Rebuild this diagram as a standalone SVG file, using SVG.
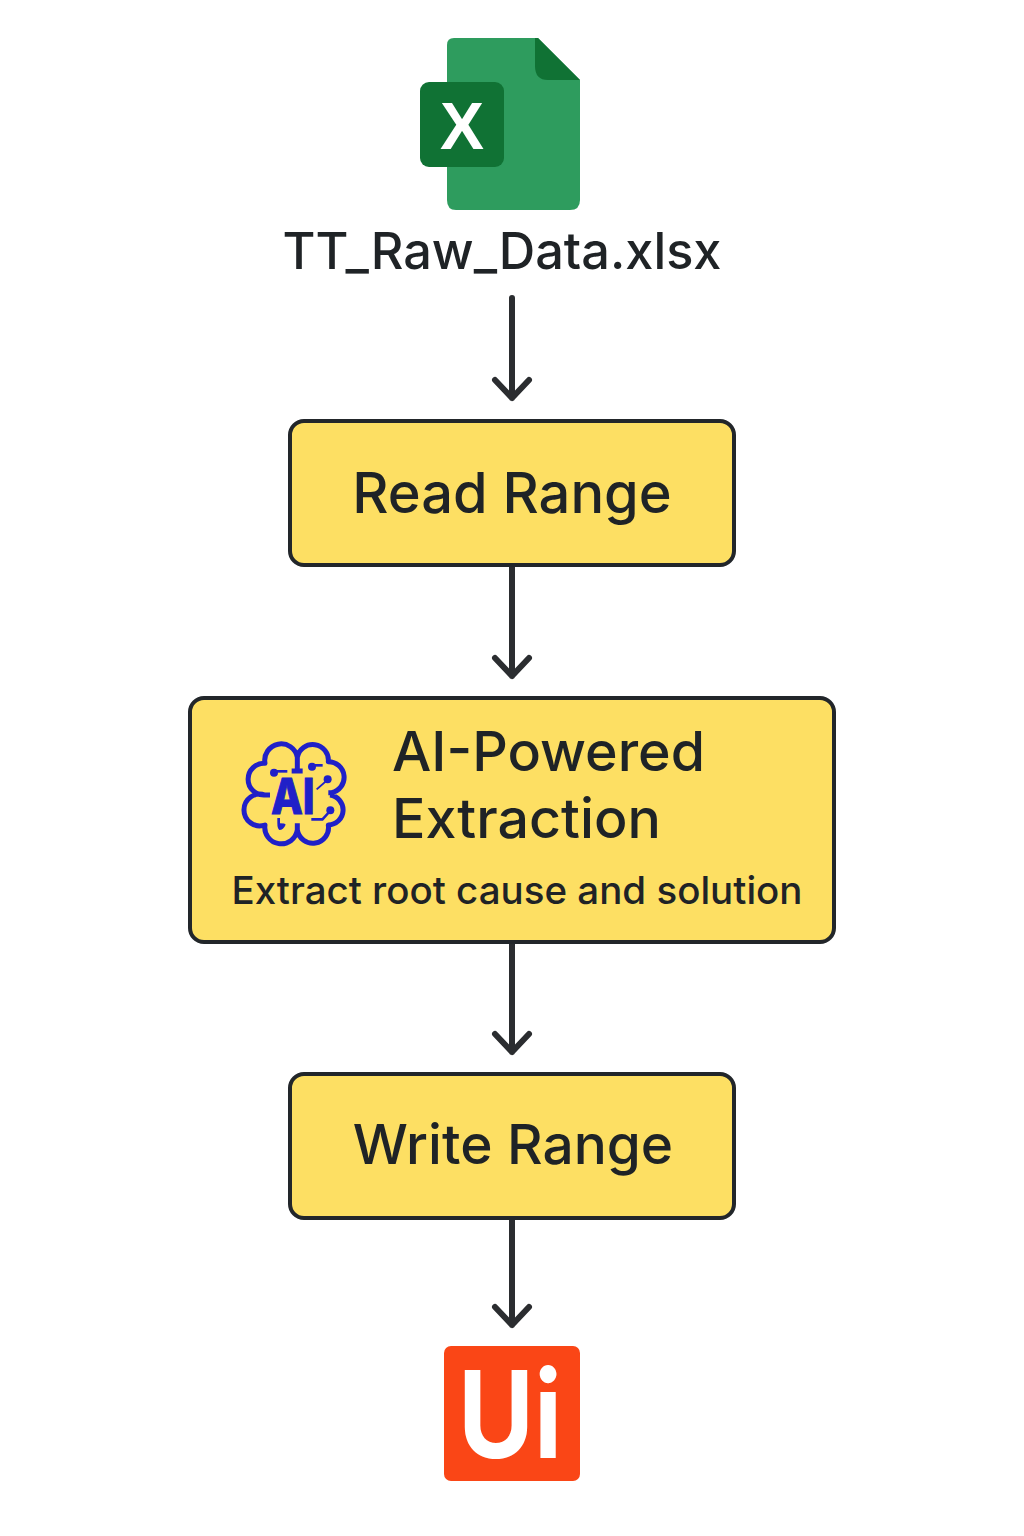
<svg xmlns="http://www.w3.org/2000/svg" width="1024" height="1536" viewBox="0 0 1024 1536">
<style>
.box{fill:#fddf63;stroke:#22262a;stroke-width:4}
.t{font-family:Inter,"Noto Sans","Liberation Sans",sans-serif;fill:#1f2326;font-weight:500}
.c{fill:none;stroke:#2b2d30;stroke-width:6;stroke-linecap:round;stroke-linejoin:round}
.b{fill:none;stroke:#2020c8;stroke-width:15;stroke-linecap:butt;stroke-linejoin:round}
</style>
<rect width="1024" height="1536" fill="#ffffff"/>
<g id="excel-node">
<path d="M454 38H538L580 80V200Q580 210 570 210H456Q447 210 447 200V45Q447 38 454 38Z" fill="#2e9c5e"/>
<path d="M535 38H538L580 80H548Q535 80 535 66Z" fill="#107234"/>
<rect x="420" y="82" width="84" height="85" rx="9" fill="#107234"/>
<text x="462" y="149" text-anchor="middle" font-family="Liberation Sans,sans-serif" font-weight="700" font-size="66" fill="#ffffff">X</text>
<text class="t" x="502" y="269" text-anchor="middle" font-size="50.5">TT_Raw_Data.xlsx</text>
</g>
<g id="connectors">
<path class="c" d="M512 298V398M495 380L512 398L529 380"/>
<path class="c" d="M512 566V676M495 658L512 676L529 658"/>
<path class="c" d="M512 943V1052M495 1034L512 1052L529 1034"/>
<path class="c" d="M512 1218V1325M495 1307L512 1325L529 1307"/>
</g>
<g id="read-range">
<rect class="box" x="290" y="421" width="444" height="144" rx="14"/>
<text class="t" x="512" y="513" text-anchor="middle" font-size="56">Read Range</text>
</g>
<g id="ai-extraction">
<rect class="box" x="190" y="698" width="644" height="244" rx="14"/>
<g transform="translate(220 720) scale(.3333)">
<path class="b" d="M215 153H248M232 153V112A47 47 0 0 1 325 125A47 47 0 0 1 335 218H325M330 225A45.2 45.2 0 0 1 325 315A47 47 0 0 1 232 330V310M232 330A49 49 0 0 1 135 315A47.6 47.6 0 1 1 135 225H150M135 225A47.6 47.6 0 1 1 135 130A49 49 0 0 1 232 112"/>
<g fill="#2020c8">
<circle cx="162" cy="158" r="12"/><rect x="162" y="150" width="40" height="8"/>
<circle cx="276" cy="140" r="12"/><rect x="276" y="132" width="32" height="8"/>
<circle cx="323" cy="178" r="12"/><path d="M288 206L318 180L322 184L292 210Z"/>
<circle cx="331" cy="271" r="12"/><path d="M274 294H306L328 270L333 275L309 302H274Z"/>
<path d="M172 294H180V310Q195 310 197 314Q190 330 178 330Q172 325 172 310Z"/>
</g>
<text x="153" y="281" font-family="Inter,Liberation Sans,sans-serif" font-weight="800" font-size="150" fill="#2020c8" stroke="#2020c8" stroke-width="3" textLength="131" lengthAdjust="spacingAndGlyphs">AI</text>
</g>
<text class="t" x="392" y="771" font-size="55.5">AI-Powered</text>
<text class="t" x="392" y="838" font-size="55.5">Extraction</text>
<text class="t" x="517" y="904" text-anchor="middle" font-size="38.5">Extract root cause and solution</text>
</g>
<g id="write-range">
<rect class="box" x="290" y="1074" width="444" height="144" rx="14"/>
<text class="t" x="513" y="1164" text-anchor="middle" font-size="55">Write Range</text>
</g>
<g id="uipath-node">
<rect x="444" y="1346" width="136" height="135" rx="7" fill="#fa4616"/>
<text x="458" y="1458" font-family="Inter,Liberation Sans,sans-serif" font-weight="700" font-size="121" fill="#ffffff" textLength="104" lengthAdjust="spacingAndGlyphs">Ui</text>
</g>
</svg>
